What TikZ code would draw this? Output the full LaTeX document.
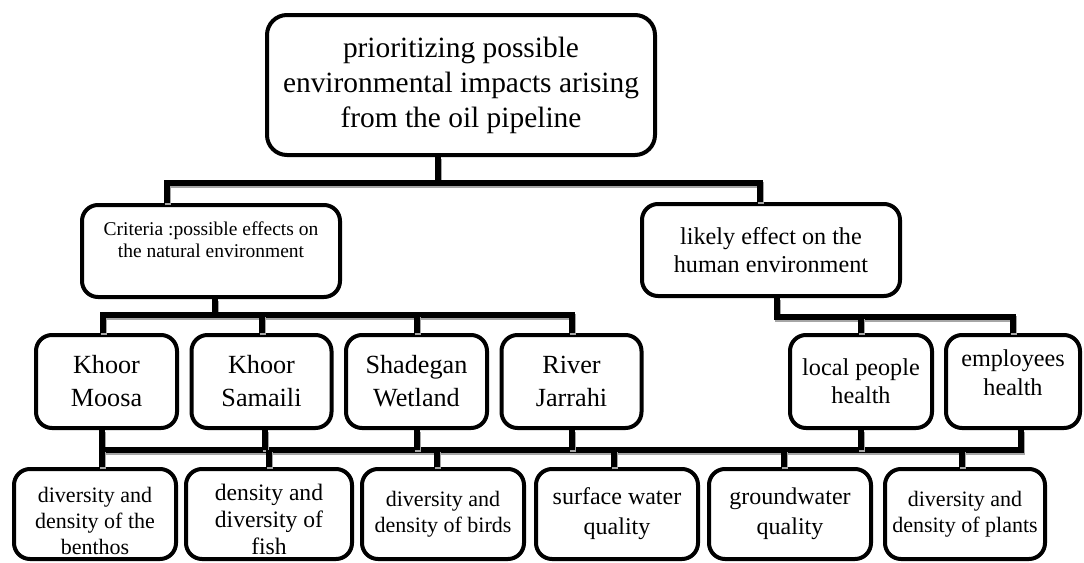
\documentclass[tikz,border=0pt]{standalone}
\usepackage{fontspec}
\setmainfont{Liberation Serif}
\usepackage{tikz}
\usetikzlibrary{positioning}
\tikzstyle{goal} = [rectangle,rounded corners=10pt,minimum width=194pt,minimum height=70pt,text centered,align=center,draw=black,line width=2pt,font=\fontsize{14.7}{17.5}\selectfont]
\tikzstyle{criterion} = [rectangle,rounded corners=8pt,minimum width=129pt,minimum height=46pt,text centered,align=center,draw=black,line width=2pt,font=\fontsize{12.1}{14}\selectfont]
\tikzstyle{site} = [rectangle,rounded corners=8pt,minimum width=70pt,minimum height=46.5pt,text centered,align=center,draw=black,line width=2pt,font=\fontsize{13.1}{16.5}\selectfont]
\tikzstyle{indicator} = [rectangle,rounded corners=8pt,minimum width=81pt,minimum height=45pt,text centered,align=center,draw=black,line width=2pt,font=\fontsize{11}{13}\selectfont]
\tikzstyle{link} = [line width=3pt,preaction={draw=black!35,line width=3pt,transform canvas={shift={(0.6pt,-1.2pt)}}}]

\begin{document}
\begin{tikzpicture}[x=0.5pt,y=-0.5pt]
\useasboundingbox (0,0) rectangle (1084,563);

\node(root) [goal] at (461,85) {prioritizing possible\\environmental impacts arising\\from the oil pipeline};
\node(crit) [criterion, font=\fontsize{9.75}{11}\selectfont] at (211,251) {Criteria :possible effects on\\the natural environment\\[0pt]\mbox{}};
\node(human) [criterion] at (771,250) {likely effect on the\\human environment};

% sites
\node(moosa) [site, minimum width=70.5pt] at (106.5,381.5) {Khoor\\Moosa};
\node(samaili) [site, node distance=77.5pt, right of=moosa] {Khoor\\Samaili};
\node(shadegan) [site, node distance=77.5pt, right of=samaili, minimum width=70.5pt] {Shadegan\\Wetland};
\node(river) [site, node distance=77.5pt, right of=shadegan] {River\\Jarrahi};
\node(local) [site, minimum width=71pt, font=\fontsize{12.1}{14}\selectfont] at (861,381.5) {local people\\health};
\node(employ) [site, node distance=76pt, right of=local, minimum width=67pt, font=\fontsize{12.1}{14.5}\selectfont] {employees\\health\\[-6pt]\mbox{}};

% indicators
\node(benthos) [indicator, inner ysep=0pt] at (95,514) {\mbox{}\\[2pt]diversity and\\density of the\\benthos};
\node(fish) [indicator, inner ysep=0pt, node distance=87pt, right of=benthos, minimum width=83pt, font=\fontsize{11.8}{13.5}\selectfont] {\mbox{}\\[0pt]density and\\diversity of\\fish};
\node(birds) [indicator, node distance=87pt, right of=fish] {diversity and\\density of birds};
\node(surface) [indicator, node distance=87pt, right of=birds, font=\fontsize{12}{15}\selectfont] {surface water\\quality};
\node(ground) [indicator, node distance=86.5pt, right of=surface, font=\fontsize{12}{15}\selectfont] {groundwater\\quality};
\node(plants) [indicator, node distance=87.5pt, right of=ground, minimum width=80pt] {diversity and\\density of plants};

\coordinate (bar1) at (438,183);
\coordinate (bar2) at (215,315);
\coordinate (bar3) at (777,317);
\coordinate (bus) at (102,450);

\draw [link] ([xshift=-11.5pt]root.south) -- (bar1);
\draw [link] ([xshift=-22pt]crit.north) |- (bar1) -| ([xshift=-5.5pt]human.north);
\draw [link] (crit.south -| bar2) -- (bar2);
\draw [link] ([xshift=-2pt]moosa.north) |- (bar2) -| (river.north);
\draw [link] (samaili.north) -- (samaili.north |- bar2);
\draw [link] (shadegan.north) -- (shadegan.north |- bar2);
\draw [link] (human.south -| bar3) -- (bar3) -| (employ.north);
\draw [link] (local.north) -- (local.north |- bar3);
\draw [link] (moosa.south -| bus) -- (bus) -| ([xshift=4pt]employ.south);
\draw [link] ([xshift=1.5pt]samaili.south) -- ([xshift=1.5pt]samaili.south |- bus);
\draw [link] (shadegan.south) -- (shadegan.south |- bus);
\draw [link] (river.south) -- (river.south |- bus);
\draw [link] (local.south) -- (local.south |- bus);
\draw [link] (benthos.north -| bus) -- (bus);
\draw [link] (fish.north) -- (fish.north |- bus);
\draw [link] ([xshift=-3pt]birds.north) -- ([xshift=-3pt]birds.north |- bus);
\draw [link] ([xshift=-1.5pt]surface.north) -- ([xshift=-1.5pt]surface.north |- bus);
\draw [link] ([xshift=-3pt]ground.north) -- ([xshift=-3pt]ground.north |- bus);
\draw [link] ([xshift=-1.5pt]plants.north) -- ([xshift=-1.5pt]plants.north |- bus);

\end{tikzpicture}
\end{document}
